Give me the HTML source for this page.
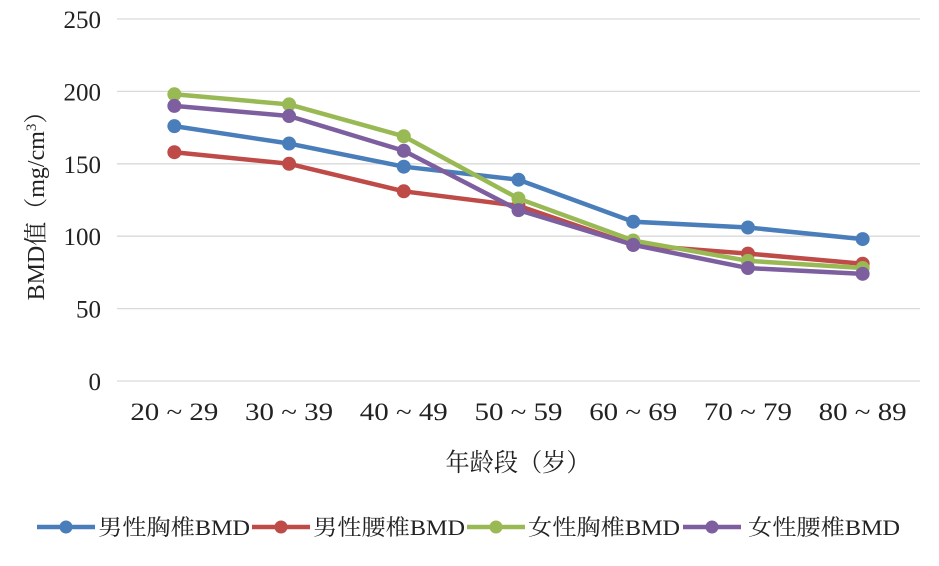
<!DOCTYPE html>
<html><head><meta charset="utf-8"><style>
body{margin:0;background:#fff;width:939px;height:561px;overflow:hidden}
svg{font-family:"Liberation Serif","Noto Serif CJK SC",serif}
</style></head><body>
<svg id="c" width="939" height="561"></svg>
<script>
const categories=["20 ~ 29","30 ~ 39","40 ~ 49","50 ~ 59","60 ~ 69","70 ~ 79","80 ~ 89"];
const maleThoracic=[176,164,148,139,110,106,98];
const maleLumbar=[158,150,131,121,94,88,81];
const femaleThoracic=[198,191,169,126,97,83,78];
const femaleLumbar=[190,183,159,118,94,78,74];
const yTicks=[0,50,100,150,200,250];
const seriesNames=["男性胸椎BMD","男性腰椎BMD","女性胸椎BMD","女性腰椎BMD"];
const seriesData=[maleThoracic,maleLumbar,femaleThoracic,femaleLumbar];
const colors=["#4a7ebb","#be4b48","#98b954","#7d5fa0"];
const NS="http://www.w3.org/2000/svg";
const svg=document.getElementById('c');
const L=117,R=920,T=19,B=381;
const x=i=>L+(R-L)/categories.length*(i+0.5);
const y=v=>B-(v/250)*(B-T);
function mk(t,a,p){const e=document.createElementNS(NS,t);for(const k in a)e.setAttribute(k,a[k]);(p||svg).appendChild(e);return e;}
yTicks.forEach(v=>{
  const g=mk('line',{x1:L,x2:R,y1:y(v),y2:y(v),stroke:'#d9d9d9','stroke-width':1.3});
  
  
  const t=mk('text',{x:101,y:y(v)+9,'text-anchor':'end','font-size':25,fill:'#222'});t.textContent=v;
  
  
});
categories.forEach((c,i)=>{
  const t=mk('text',{x:x(i),y:420,'text-anchor':'middle','font-size':25,fill:'#222',textLength:88,lengthAdjust:'spacingAndGlyphs'});t.textContent=c;
  
  
});
const xt=mk('text',{x:518,y:471,'text-anchor':'middle','font-size':25,fill:'#222',textLength:145,lengthAdjust:'spacingAndGlyphs'});xt.textContent="年龄段（岁）";


const yt=mk('text',{transform:'translate(44,200) rotate(-90)','text-anchor':'middle','font-size':24,fill:'#222'});
yt.innerHTML='BMD值（mg/cm<tspan dy="-8" font-size="15">3</tspan><tspan dy="8">）</tspan>';


seriesData.forEach((d,s)=>{
  const g=mk('g',{});
  
  
  const p=mk('polyline',{points:d.map((v,i)=>x(i)+','+y(v)).join(' '),fill:'none',stroke:colors[s],'stroke-width':4.5,'stroke-linejoin':'round'},g);
  
  
  d.forEach((v,i)=>{
    const c=mk('circle',{cx:x(i),cy:y(v),r:7,fill:colors[s]},g);
    
    
  });
});
const lx=[37,252,467,683],tx=[98,313,528,748];
seriesNames.forEach((n,s)=>{
  const g=mk('g',{});
  
  
  mk('line',{x1:lx[s],x2:lx[s]+58,y1:527,y2:527,stroke:colors[s],'stroke-width':4.5},g);
  mk('circle',{cx:lx[s]+29,cy:527,r:6.5,fill:colors[s]},g);
  const t=mk('text',{x:tx[s],y:535,'font-size':22,fill:'#222',textLength:152,lengthAdjust:'spacingAndGlyphs'},g);t.textContent=n;
});
</script>
</body></html>
